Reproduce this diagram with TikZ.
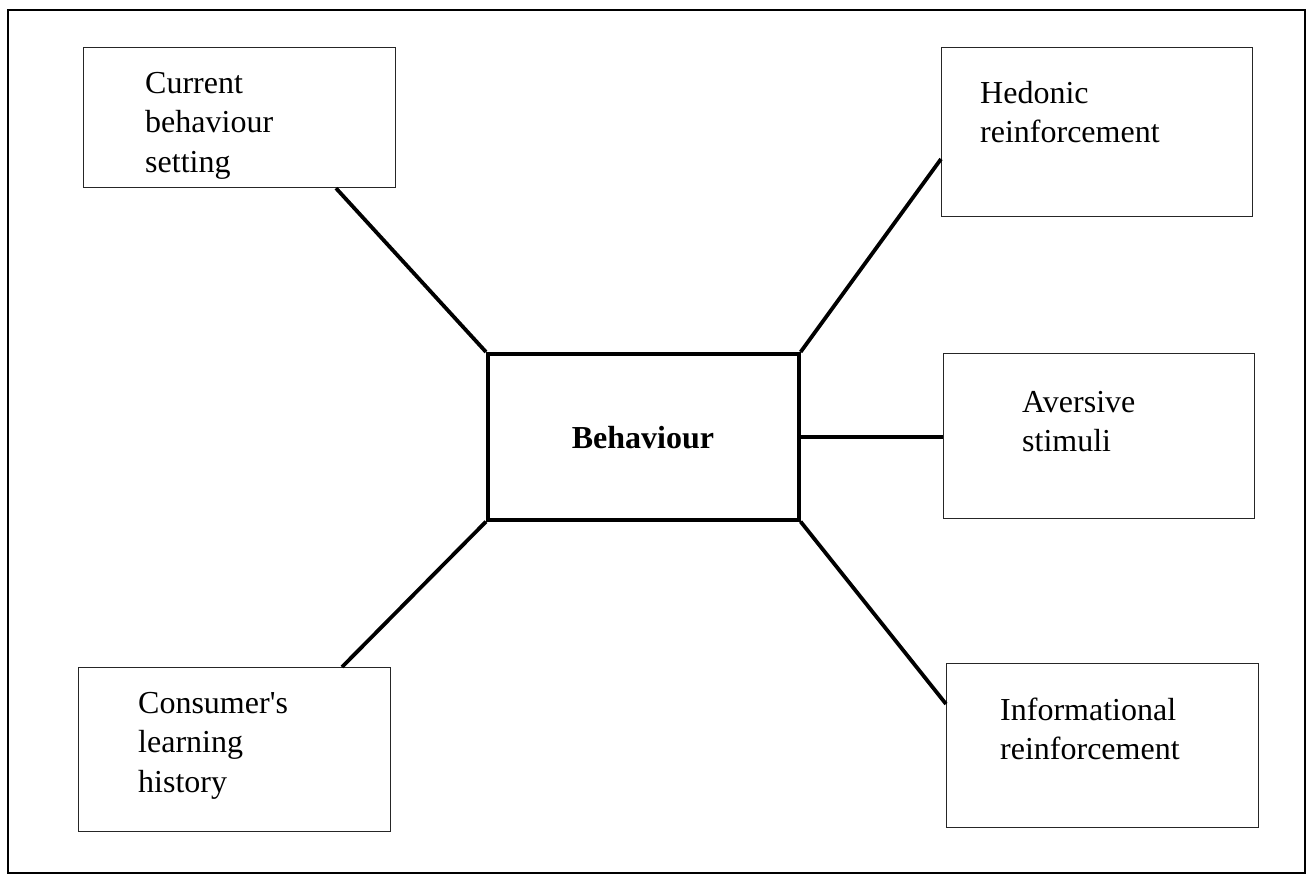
\documentclass[tikz,border=0pt]{standalone}
\usepackage{fontspec}
\setmainfont{Liberation Serif}
\begin{document}
\begin{tikzpicture}[x=1pt,y=-1pt,
  box/.style={draw=black!85, line width=1.2pt, inner sep=0pt, anchor=north west},
  centrebox/.style={draw=black, line width=3.6pt, inner sep=0pt, anchor=north west},
  boxtext/.style={anchor=base west, inner sep=0pt, font=\fontsize{32}{39.5}\selectfont},
  link/.style={draw=black, line width=3.8pt}]
\useasboundingbox (0,0) rectangle (1310,879);

% outer frame
\draw[line width=1.6pt] (8,10) rectangle (1305,873);

% central box
\node[centrebox, minimum width=311pt, minimum height=166pt] (beh) at (486,352) {};
\node[anchor=base, inner sep=0pt, font=\fontsize{32}{39.5}\selectfont\bfseries] (behT) at (643,448) {Behaviour};

% surrounding boxes
\node[box, minimum width=312pt, minimum height=140pt] (cur) at (83,47) {};
\node[boxtext] (curT) at (145,93) {\parbox[t]{300pt}{\raggedright Current\\behaviour\\setting}};

\node[box, minimum width=311pt, minimum height=169pt] (hed) at (941,47) {};
\node[boxtext] (hedT) at (980,103) {\parbox[t]{300pt}{\raggedright Hedonic\\reinforcement}};

\node[box, minimum width=311pt, minimum height=165pt] (avr) at (943,353) {};
\node[boxtext] (avrT) at (1022,412) {\parbox[t]{300pt}{\raggedright Aversive\\stimuli}};

\node[box, minimum width=312pt, minimum height=164pt] (inf) at (946,663) {};
\node[boxtext] (infT) at (1000,720) {\parbox[t]{300pt}{\raggedright Informational\\reinforcement}};

\node[box, minimum width=312pt, minimum height=164pt] (con) at (78,667) {};
\node[boxtext] (conT) at (138,713) {\parbox[t]{300pt}{\raggedright Consumer\textquotesingle s\\learning\\history}};

% connectors (y axis points down, so downward shifts are negative)
\draw[link] ([xshift=253pt]cur.south west) -- (beh.north west);
\draw[link] (beh.north east) -- ([yshift=-112pt]hed.north west);
\draw[link] (beh.east) -- (beh.east -| avr.west);
\draw[link] (beh.south east) -- ([yshift=-41pt]inf.north west);
\draw[link] (beh.south west) -- ([xshift=264pt]con.north west);
\end{tikzpicture}
\end{document}
